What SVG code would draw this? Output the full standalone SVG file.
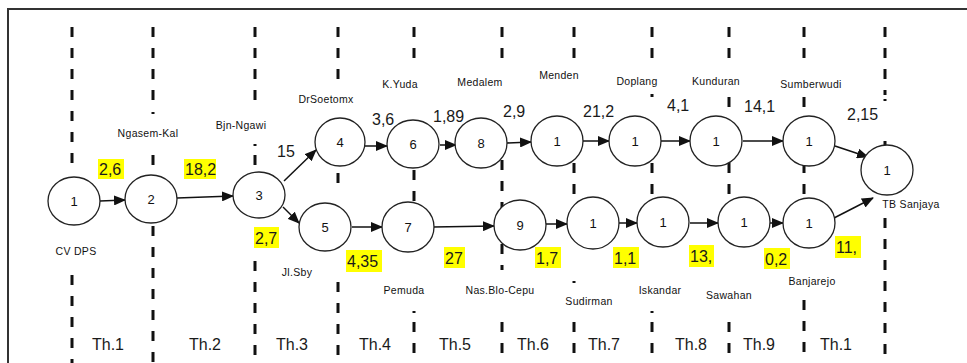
<svg xmlns="http://www.w3.org/2000/svg" width="967" height="363" viewBox="0 0 967 363">
<style>
.frame{fill:none;stroke:#333;stroke-width:2}
.dash{stroke:#111;stroke-width:3;stroke-dasharray:10 11;fill:none}
.node{fill:#fff;stroke:#222;stroke-width:1.3}
.num{font-family:"Liberation Sans",Arial,sans-serif;font-size:13px;fill:#111;text-anchor:middle}
.lbl{font-family:"Liberation Sans",Arial,sans-serif;font-size:10.5px;letter-spacing:0.3px;fill:#111;text-anchor:middle}
.val{font-family:"Liberation Sans",Arial,sans-serif;font-size:16px;fill:#1a1a1a}
.hl{fill:#ffff00}
.edge{stroke:#111;stroke-width:1.5;fill:none;marker-end:url(#ah)}
</style>
<defs>
<marker id="ah" markerWidth="12" markerHeight="10" refX="11" refY="5" orient="auto" markerUnits="userSpaceOnUse">
<path d="M0,0 L12,5 L0,10 Z" fill="#111"/>
</marker>
</defs>
<rect width="967" height="363" fill="#fff"/>
<path class="frame" d="M8,363 V9 H967"/>
<g id="grid">
<path class="dash" d="M72,27 V170 M72,275 V363"/>
<path class="dash" d="M153,27 V104 M153,112 V114 M153,155 V168 M153,226 V363"/>
<path class="dash" d="M255,27 V100 M255,144 V146 M255,155 V168 M255,261 V363"/>
<path class="dash" d="M338,27 V82 M338,173 V184 M338,282 V363"/>
<path class="dash" d="M414,27 V62 M414,170 V205 M414,311 V313 M414,322 V363"/>
<path class="dash" d="M502,27 V62 M502,160 V270 M502,322 V363"/>
<path class="dash" d="M574,27 V62 M574,163 V200 M574,281 V283 M574,322 V363"/>
<path class="dash" d="M652,27 V62 M652,94 V97 M652,163 V200 M652,311 V313 M652,322 V363"/>
<path class="dash" d="M729,27 V62 M729,97 V110 M729,163 V204 M729,322 V363"/>
<path class="dash" d="M804,27 V62 M804,97 V110 M804,163 V200 M804,300 V363"/>
<path class="dash" d="M885,27 V95 M885,99 V101 M885,141 V146 M885,218 V363"/>
</g>
<g id="connectors">
<path class="edge" d="M100,201 L125,200"/>
<path class="edge" d="M177,198 L233,196"/>
<path class="edge" d="M284,181 L316,150"/>
<path class="edge" d="M283,207 L299,223"/>
<path class="edge" d="M365,146 L387,146"/>
<path class="edge" d="M440,145 L456,145"/>
<path class="edge" d="M507,143 L531,142"/>
<path class="edge" d="M583,141 L609,141"/>
<path class="edge" d="M661,141 L690,141"/>
<path class="edge" d="M743,141 L783,141"/>
<path class="edge" d="M835,146 L868,157"/>
<path class="edge" d="M352,227 L382,227"/>
<path class="edge" d="M433,227 L494,226"/>
<path class="edge" d="M546,224 L567,224"/>
<path class="edge" d="M618,223 L637,223"/>
<path class="edge" d="M690,223 L718,223"/>
<path class="edge" d="M770,223 L783,223"/>
<path class="edge" d="M834,218 L873,198"/>
</g>
<g id="n1"><ellipse class="node" cx="74" cy="201" rx="26" ry="24"/><text class="num" x="74" y="206">1</text></g>
<g id="n2"><ellipse class="node" cx="151" cy="199" rx="26" ry="24"/><text class="num" x="151" y="204">2</text></g>
<g id="n3"><ellipse class="node" cx="259" cy="195" rx="26" ry="23"/><text class="num" x="259" y="200">3</text></g>
<g id="n4"><ellipse class="node" cx="340" cy="142" rx="25" ry="24"/><text class="num" x="340" y="147">4</text></g>
<g id="n5"><ellipse class="node" cx="325" cy="227" rx="26" ry="24"/><text class="num" x="325" y="232">5</text></g>
<g id="n6"><ellipse class="node" cx="413" cy="144" rx="26" ry="24"/><text class="num" x="413" y="149">6</text></g>
<g id="n7"><ellipse class="node" cx="408" cy="227" rx="26" ry="25"/><text class="num" x="408" y="232">7</text></g>
<g id="n8"><ellipse class="node" cx="481" cy="143" rx="26" ry="25"/><text class="num" x="481" y="148">8</text></g>
<g id="n9"><ellipse class="node" cx="520" cy="225" rx="26" ry="25"/><text class="num" x="520" y="230">9</text></g>
<g id="menden"><ellipse class="node" cx="557" cy="141" rx="26" ry="25"/><text class="num" x="557" y="146">1</text></g>
<g id="doplang"><ellipse class="node" cx="635" cy="141" rx="26" ry="25"/><text class="num" x="635" y="146">1</text></g>
<g id="kunduran"><ellipse class="node" cx="716" cy="141" rx="26" ry="25"/><text class="num" x="716" y="146">1</text></g>
<g id="sumberwudi"><ellipse class="node" cx="809" cy="141" rx="26" ry="25"/><text class="num" x="809" y="146">1</text></g>
<g id="tbsanjaya"><ellipse class="node" cx="887" cy="170" rx="26" ry="25"/><text class="num" x="887" y="175">1</text></g>
<g id="sudirman"><ellipse class="node" cx="593" cy="223" rx="26" ry="26"/><text class="num" x="593" y="228">1</text></g>
<g id="iskandar"><ellipse class="node" cx="663" cy="222" rx="26" ry="25"/><text class="num" x="663" y="227">1</text></g>
<g id="sawahan"><ellipse class="node" cx="744" cy="222" rx="26" ry="25"/><text class="num" x="744" y="227">1</text></g>
<g id="banjarejo"><ellipse class="node" cx="809" cy="223" rx="26" ry="25"/><text class="num" x="809" y="228">1</text></g>
<g id="labels">
<text class="lbl" x="148" y="137">Ngasem-Kal</text>
<text class="lbl" x="241" y="129">Bjn-Ngawi</text>
<text class="lbl" x="326" y="103">DrSoetomx</text>
<text class="lbl" x="400" y="88">K.Yuda</text>
<text class="lbl" x="480" y="86">Medalem</text>
<text class="lbl" x="559" y="79">Menden</text>
<text class="lbl" x="637" y="85">Doplang</text>
<text class="lbl" x="716" y="85">Kunduran</text>
<text class="lbl" x="811" y="88">Sumberwudi</text>
<text class="lbl" x="76" y="255">CV DPS</text>
<text class="lbl" x="297" y="276">Jl.Sby</text>
<text class="lbl" x="404" y="294">Pemuda</text>
<text class="lbl" x="500" y="294">Nas.Blo-Cepu</text>
<text class="lbl" x="589" y="305">Sudirman</text>
<text class="lbl" x="660" y="294">Iskandar</text>
<text class="lbl" x="729" y="299">Sawahan</text>
<text class="lbl" x="812" y="285">Banjarejo</text>
<text class="lbl" x="911" y="208">TB Sanjaya</text>
</g>
<g id="values">
<text class="val" x="277" y="157">15</text>
<text class="val" x="372" y="125">3,6</text>
<text class="val" x="433" y="122">1,89</text>
<text class="val" x="503" y="117">2,9</text>
<text class="val" x="583" y="117">21,2</text>
<text class="val" x="667" y="111">4,1</text>
<text class="val" x="744" y="112">14,1</text>
<text class="val" x="847" y="120">2,15</text>
<rect class="hl" x="98" y="159" width="26" height="20"/><text class="val" x="99" y="175">2,6</text>
<rect class="hl" x="184" y="159" width="32" height="20"/><text class="val" x="185" y="175">18,2</text>
<rect class="hl" x="254" y="227" width="25" height="21"/><text class="val" x="255" y="244">2,7</text>
<rect class="hl" x="346" y="250" width="36" height="22"/><text class="val" x="347" y="267">4,35</text>
<rect class="hl" x="444" y="247" width="21" height="21"/><text class="val" x="445" y="264">27</text>
<rect class="hl" x="535" y="247" width="26" height="21"/><text class="val" x="536" y="264">1,7</text>
<rect class="hl" x="613" y="247" width="26" height="21"/><text class="val" x="614" y="264">1,1</text>
<rect class="hl" x="689" y="245" width="25" height="22"/><text class="val" x="690" y="262">13,</text>
<rect class="hl" x="764" y="248" width="26" height="21"/><text class="val" x="765" y="265">0,2</text>
<rect class="hl" x="835" y="236" width="26" height="22"/><text class="val" x="836" y="253">11,</text>
</g>
<g id="periods">
<text class="val" x="92" y="350">Th.1</text>
<text class="val" x="189" y="350">Th.2</text>
<text class="val" x="276" y="350">Th.3</text>
<text class="val" x="359" y="350">Th.4</text>
<text class="val" x="439" y="350">Th.5</text>
<text class="val" x="517" y="350">Th.6</text>
<text class="val" x="588" y="350">Th.7</text>
<text class="val" x="675" y="350">Th.8</text>
<text class="val" x="743" y="350">Th.9</text>
<text class="val" x="820" y="350">Th.1</text>
</g>
</svg>
